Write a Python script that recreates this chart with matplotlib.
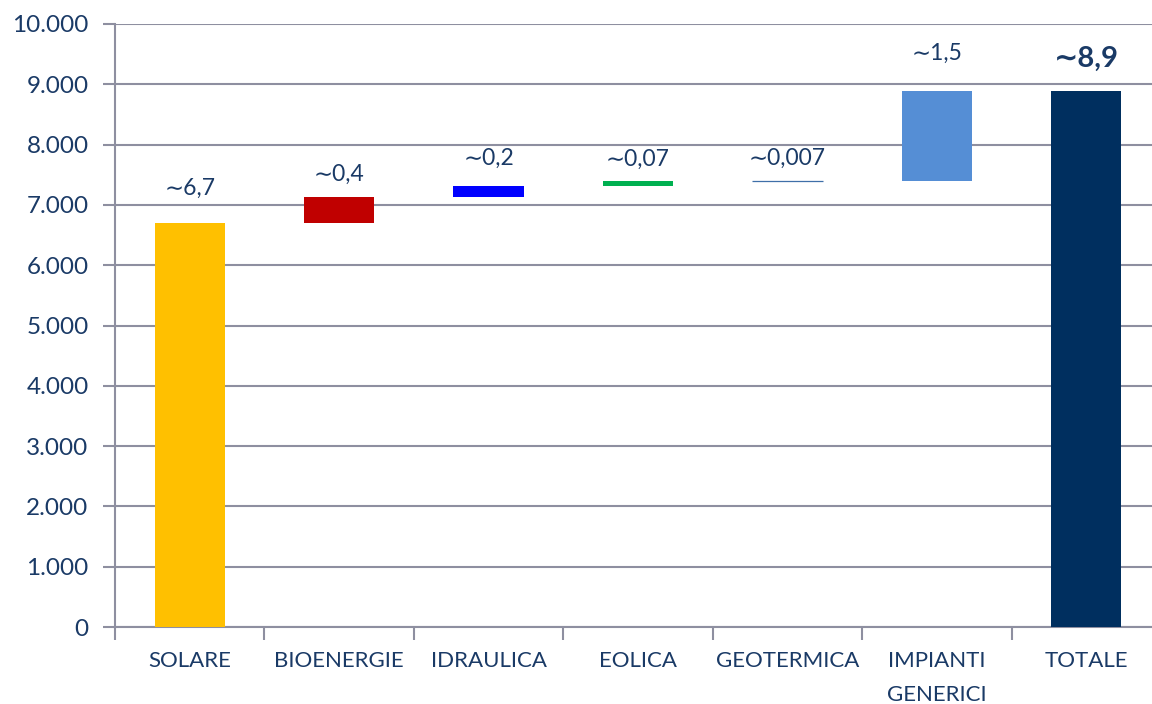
import matplotlib.pyplot as plt
from matplotlib.ticker import FuncFormatter, MultipleLocator
import numpy as np

plt.rcParams['font.family'] = ['Lato', 'DejaVu Sans']

# Capacity additions (MW) by source, waterfall style
categories = ['SOLARE', 'BIOENERGIE', 'IDRAULICA', 'EOLICA', 'GEOTERMICA',
              'IMPIANTI\nGENERICI']
increments = [6700, 430, 190, 70, 7, 1500]
value_labels = ['∼6,7', '∼0,4', '∼0,2', '∼0,07', '∼0,007', '∼1,5']
total_label = '∼8,9'
colors = ['#FFC000', '#C00000', '#0000FF', '#00B050', '#3F6FA8', '#558ED5']
total_color = '#002F5F'
label_pad = [24, 12, 17, 12, 12, 27]   # px above bar top
text_color = '#1A3A66'
grid_color = '#8E8FA0'

total = sum(increments)
bottoms = np.concatenate([[0], np.cumsum(increments)[:-1]])
labels = categories + ['TOTALE']
x = np.arange(len(labels))

fig = plt.figure(figsize=(11.52, 7.04), dpi=100)
ax = fig.add_axes([115 / 1152, 77 / 704, 1046 / 1152, 603 / 704])

width = 0.47
for i, (h, b, c) in enumerate(zip(increments, bottoms, colors)):
    ax.bar(x[i], h, bottom=b, width=width, color=c,
           edgecolor=c if h < 20 else 'none', linewidth=0.9, zorder=3)
    ax.annotate(value_labels[i], (x[i], b + h), xytext=(0, label_pad[i] * 0.72),
                textcoords='offset points', ha='center', va='bottom',
                fontsize=16.5, color=text_color)
ax.bar(x[-1], total, width=width, color=total_color, zorder=3)
ax.annotate(total_label, (x[-1], total), xytext=(0, 19 * 0.72),
            textcoords='offset points', ha='center', va='bottom',
            fontsize=21, fontweight='bold', color=text_color)

ax.set_xlim(-0.5, len(labels) - 0.5)
ax.set_ylim(0, 10000)
ax.yaxis.set_major_locator(MultipleLocator(1000))
ax.yaxis.set_major_formatter(FuncFormatter(lambda v, p: f'{int(v):,}'.replace(',', '.')))
ax.grid(axis='y', color=grid_color, linewidth=1.5, zorder=0)

ax.set_xticks(x)
ax.set_xticklabels(labels, fontsize=16, color=text_color, va='top', linespacing=1.9)
ax.set_xticks(np.arange(len(labels)) - 0.5, minor=True)
ax.tick_params(axis='x', which='major', length=0, pad=17)
ax.tick_params(axis='x', which='minor', length=9, width=1.5, color=grid_color)
ax.tick_params(axis='y', length=9, width=1.5, color=grid_color, labelsize=17.5,
               labelcolor=text_color, pad=10)

for side in ['top', 'right']:
    ax.spines[side].set_visible(False)
for side in ['left', 'bottom']:
    ax.spines[side].set_color(grid_color)
    ax.spines[side].set_linewidth(1.5)

fig.savefig('out.png', dpi=100)
